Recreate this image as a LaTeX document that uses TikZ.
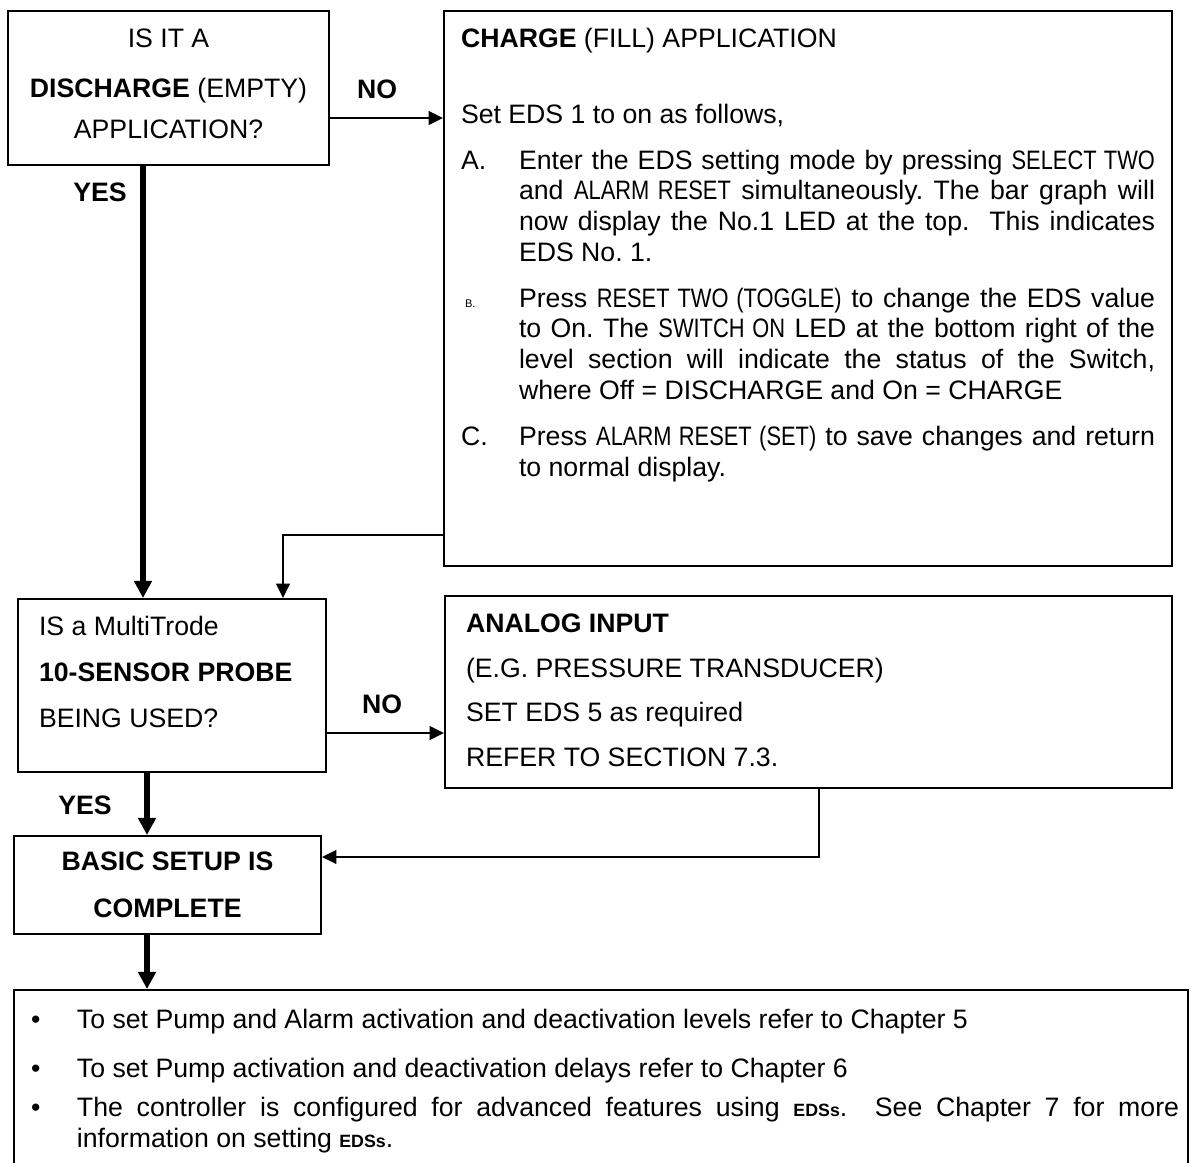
\documentclass[tikz,border=0pt]{standalone}
\usepackage{fontspec}
\setmainfont{Liberation Sans}
\newfontfamily\narrowfont{Liberation Sans}[FakeStretch=0.82]
\usepackage{tikz}
\usetikzlibrary{positioning}
\usetikzlibrary{calc,arrows.meta}
\frenchspacing

\newdimen\pxu \pxu=0.45pt
\newcommand{\stepitem}[2]{\hangindent=58\pxu\hangafter=1\noindent\makebox[58\pxu][l]{#1}#2\par}
\newcommand{\noteitem}[1]{\hangindent=54\pxu\hangafter=1\noindent\makebox[54\pxu][l]{\hspace{8\pxu}\textbullet}#1\par}
\newcommand{\edsmark}{{\fontsize{8}{9}\selectfont\bfseries EDSs}}

\begin{document}
\begin{tikzpicture}[x=0.45pt,y=-0.45pt,font=\fontsize{12}{13.8}\selectfont,
  box/.style={draw,line width=0.9pt,inner sep=0pt,anchor=north west},
  thin arrow/.style={-{Triangle[length=6.5pt,width=6.2pt]},line width=0.8pt},
  thick arrow/.style={-{Triangle[length=7.7pt,width=7.7pt]},line width=2.6pt},
  lbl/.style={font=\fontsize{12}{13.8}\selectfont\bfseries}]
\useasboundingbox (0,0) rectangle (1191,1162);
\clip (0,0) rectangle (1191,1162);

% question boxes
\node[box,minimum width=321\pxu,minimum height=154\pxu,align=center,
  font=\fontsize{12}{18.45}\selectfont] at (7,10) (disch)
  {IS IT A\\[4pt] \textbf{DISCHARGE} (EMPTY)\\ APPLICATION?\rule[-8\pxu]{0pt}{0pt}};
\node[box,inner xsep=21\pxu,inner ysep=17\pxu] at (17,598) (probe)
  {\parbox[c][139\pxu][t]{266\pxu}{\fontsize{12}{20.7}\selectfont
  IS a MultiTrode\\ \textbf{10-SENSOR PROBE}\\ BEING USED?}};

% charge box
\node[box,inner xsep=17\pxu,inner ysep=17\pxu] at (443,10) (charge)
  {\parbox[c][521\pxu][t]{694\pxu}{\setlength{\parskip}{0pt}%
  \noindent\textbf{CHARGE} (FILL) APPLICATION\par
  \vspace{20.4pt}
  \noindent Set EDS 1 to on as follows,\par
  \vspace{6.9pt}
  \stepitem{A.}{Enter the EDS setting mode by pressing {\narrowfont SELECT TWO}\linebreak
    and {\narrowfont ALARM RESET} simultaneously. The bar graph will\linebreak
    now display the No.1 LED at the top.~ This indicates\linebreak EDS No. 1.}
  \vspace{6.9pt}
  \stepitem{\hspace{4\pxu}{\fontsize{5}{6}\selectfont B.}}{Press {\narrowfont RESET TWO (TOGGLE)} to change the EDS value\linebreak
    to On. The {\narrowfont SWITCH ON} LED at the bottom right of the\linebreak
    level section will indicate the status of the Switch,\linebreak
    where Off = DISCHARGE and On = CHARGE}
  \vspace{7.2pt}
  \stepitem{C.}{Press {\narrowfont ALARM RESET (SET)} to save changes and return\linebreak
    to normal display.}}};

% analog box
\node[box,inner xsep=21\pxu,inner ysep=18\pxu] at (444,595) (analog)
  {\parbox[c][156\pxu][t]{685\pxu}{\fontsize{12}{20.1}\selectfont
  \textbf{ANALOG INPUT}\\ (E.G. PRESSURE TRANSDUCER)\\ SET EDS 5 as required\\ REFER TO SECTION 7.3.}};

% end boxes
\node[box,minimum width=307\pxu,minimum height=98\pxu,align=center,
  font=\fontsize{12}{21.2}\selectfont\bfseries] at (13,835) (basic)
  {BASIC SETUP IS\\ COMPLETE};
\node[box,inner xsep=9\pxu,inner ysep=19\pxu] at (13,989) (notes)
  {\parbox[c][250\pxu][t]{1156\pxu}{\setlength{\parskip}{0pt}%
  \noteitem{To set Pump and Alarm activation and deactivation levels refer to Chapter 5}
  \vspace{8.3pt}
  \noteitem{To set Pump activation and deactivation delays refer to Chapter 6}
  \vspace{3.8pt}
  \noteitem{The controller is configured for advanced features using \edsmark.~ See Chapter 7 for more\linebreak
    information on setting \edsmark.}}};

% labels
\node[lbl] at (377,89) (noA) {NO};
\node[lbl] at (100,192) (yesA) {YES};
\node[lbl] at (382,704) (noB) {NO};
\node[lbl] at (85,805) (yesB) {YES};

% connectors
\draw[thin arrow] (disch.east |- 0,118) -- (charge.west |- 0,118);
\draw[thick arrow] (disch.south -| 143,0) -- (probe.north -| 143,0);
\draw[thin arrow] (charge.west |- 0,535) -| ([xshift=-44\pxu]probe.north east);
\draw[thin arrow] (probe.east |- 0,733) -- (analog.west |- 0,733);
\draw[thick arrow] (probe.south -| 147,0) -- (basic.north -| 147,0);
\draw[thin arrow] (analog.south -| 819,0) |- (basic.east |- 0,857);
\draw[thick arrow] (basic.south -| 147,0) -- (notes.north -| 147,0);
\end{tikzpicture}
\end{document}
